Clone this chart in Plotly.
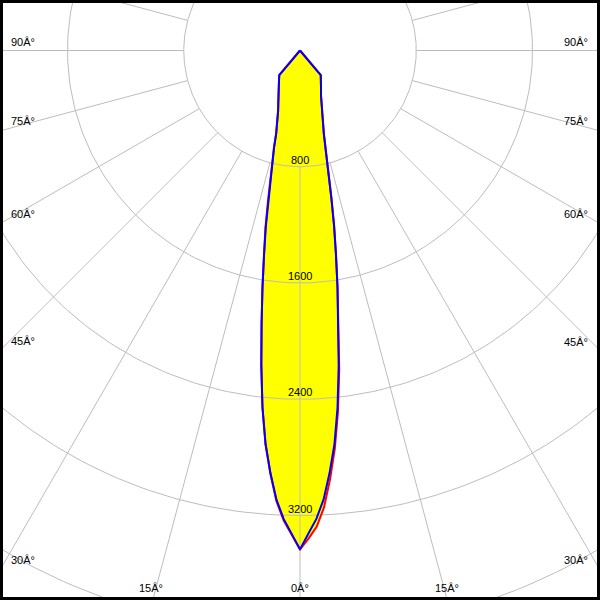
import numpy as np
import plotly.graph_objects as go

# ---- data (candela) ----
gamma_deg = [0, 1, 2, 3, 4, 5, 6, 7, 8, 9, 10, 11, 12, 13, 14, 15, 16, 18, 20, 22.5, 25, 30, 35, 40, 45, 60, 75, 90]
c0_cd   = [3433, 3360, 3280, 3150, 2960, 2750, 2500, 2215, 1900, 1650, 1425, 1230, 1040, 870, 770, 690, 595, 510, 440, 390, 342, 289, 252, 222, 0, 0, 0, 0]
c180_cd = [3433, 3328, 3235, 3105, 2920, 2720, 2470, 2185, 1900, 1650, 1425, 1250, 1060, 890, 785, 690, 595, 510, 440, 390, 342, 289, 252, 222, 0, 0, 0, 0]
c90_cd  = [3433, 3325, 3225, 3095, 2915, 2720, 2470, 2185, 1900, 1650, 1425, 1230, 1040, 870, 770, 690, 595, 510, 440, 390, 342, 289, 252, 222, 0, 0, 0, 0]
c270_cd = [3433, 3325, 3225, 3095, 2915, 2720, 2470, 2185, 1900, 1650, 1425, 1230, 1040, 870, 770, 690, 595, 510, 440, 390, 342, 289, 252, 222, 0, 0, 0, 0]

radial_tick_values = [800, 1600, 2400, 3200]
radial_tick_labels = ["800", "1600", "2400", "3200"]
grid_circle_values = [800, 1600, 2400, 3200, 4000, 4800]
grid_angle_step = 15
angle_tick_labels = ["90Â°", "75Â°", "60Â°", "45Â°", "30Â°", "15Â°", "0Â°",
                     "15Â°", "30Â°", "45Â°", "60Â°", "75Â°", "90Â°"]

# ---- layout constants ----
W = H = 600
PX_PER_CD = 116.25 / 800.0
CX_PX, CY_PX = 300.0, 50.5
x_range = [-CX_PX / PX_PER_CD, (W - CX_PX) / PX_PER_CD]
y_range = [-(H - CY_PX) / PX_PER_CD, CY_PX / PX_PER_CD]

GRID = "#bdbdbd"
FONT = dict(family="Liberation Sans, Arial, sans-serif", size=11, color="black")


def curve(right, left):
    g = np.radians(np.array(gamma_deg, dtype=float))
    r = np.array(right, dtype=float)
    l = np.array(left, dtype=float)
    xl = -l * np.sin(g)
    yl = -l * np.cos(g)
    xr = r * np.sin(g)
    yr = -r * np.cos(g)
    x = np.concatenate([xl[::-1], xr[1:]])
    y = np.concatenate([yl[::-1], yr[1:]])
    return x, y


fig = go.Figure()

xr_, yr_ = curve(c0_cd, c180_cd)
xb_, yb_ = curve(c90_cd, c270_cd)

# yellow fills
for xx, yy in [(xr_, yr_), (xb_, yb_)]:
    fig.add_trace(go.Scatter(x=xx, y=yy, mode="lines", fill="toself",
                             fillcolor="#ffff00", line=dict(width=0, color="#ffff00"),
                             hoverinfo="skip", showlegend=False))

# grid circles
t = np.radians(np.arange(0, 361, 1.0))
gx, gy = [], []
for v in grid_circle_values:
    gx += list(v * np.sin(t)) + [None]
    gy += list(v * np.cos(t)) + [None]
fig.add_trace(go.Scatter(x=gx, y=gy, mode="lines", line=dict(color=GRID, width=1),
                         hoverinfo="skip", showlegend=False))

# radial lines (from first circle outward)
rx, ry = [], []
r_in, r_out = grid_circle_values[0], 8000
for a in range(0, 360, grid_angle_step):
    ar = np.radians(a)
    rx += [r_in * np.sin(ar), r_out * np.sin(ar), None]
    ry += [-r_in * np.cos(ar), -r_out * np.cos(ar), None]
fig.add_trace(go.Scatter(x=rx, y=ry, mode="lines", line=dict(color=GRID, width=1),
                         hoverinfo="skip", showlegend=False))

# curves
fig.add_trace(go.Scatter(x=xr_, y=yr_, mode="lines", line=dict(color="#ff0000", width=2),
                         hoverinfo="skip", showlegend=False))
fig.add_trace(go.Scatter(x=xb_, y=yb_, mode="lines", line=dict(color="#0000ff", width=2),
                         hoverinfo="skip", showlegend=False))

annotations = []
# radial value labels
for v, lab in zip(radial_tick_values, radial_tick_labels):
    annotations.append(dict(x=0, y=-v, xref="x", yref="y", text=lab, showarrow=False,
                            yshift=7, xanchor="center", yanchor="middle", font=FONT))

# angle labels (pixel placement on the frame)
label_px = [(9, 42, "left"), (9, 121, "left"), (9, 214, "left"), (9, 341, "left"),
            (9, 560, "left"), (151, 588, "center"), (300, 588, "center"),
            (447, 588, "center"), (590, 560, "right"), (590, 342, "right"),
            (590, 214, "right"), (590, 121, "right"), (590, 42, "right")]
for lab, (px, py, xa) in zip(angle_tick_labels, label_px):
    annotations.append(dict(x=px / W, y=1 - py / H, xref="paper", yref="paper",
                            text=lab, showarrow=False, xanchor=xa, yanchor="middle",
                            font=FONT))

fig.update_layout(
    width=W, height=H, autosize=False,
    margin=dict(l=0, r=0, t=0, b=0),
    paper_bgcolor="white", plot_bgcolor="white",
    xaxis=dict(range=x_range, visible=False, fixedrange=True),
    yaxis=dict(range=y_range, visible=False, fixedrange=True),
    annotations=annotations,
    shapes=[dict(type="rect", xref="paper", yref="paper", x0=0, y0=0, x1=1, y1=1,
                 line=dict(color="black", width=6))],
    showlegend=False,
)

fig.write_html("out.html", config={"displayModeBar": False, "staticPlot": True},
               post_script="document.body.style.margin='0';document.body.style.overflow='hidden';")
